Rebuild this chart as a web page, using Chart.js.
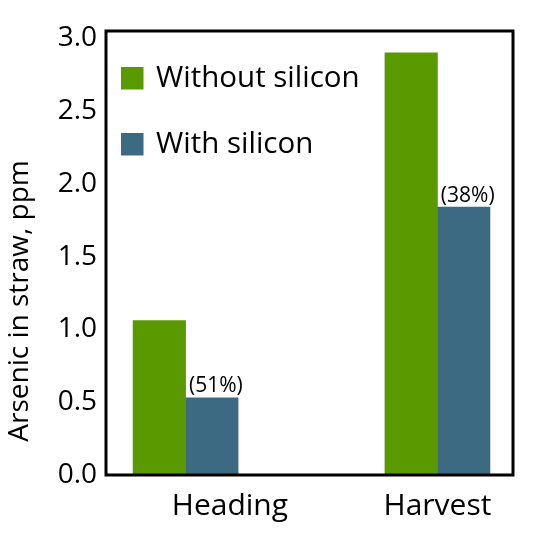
<!DOCTYPE html>
<html>
<head>
<meta charset="utf-8">
<script src="https://cdn.jsdelivr.net/npm/chart.js@4/dist/chart.umd.min.js"></script>
<style>
  html, body { margin: 0; padding: 0; background: #fff; }
  canvas { display: block; }
</style>
</head>
<body>
<canvas id="chart" width="544" height="546"></canvas>
<script>
const categories = ["Heading", "Harvest"];
const seriesNames = ["Without silicon", "With silicon"];
const withoutSilicon = [1.06, 2.90];
const withSilicon = [0.53, 1.84];
const reductionNotes = ["(51%)", "(38%)"];
const yTicks = [0, 0.5, 1, 1.5, 2, 2.5, 3];

const GREEN = "#5b9900";
const BLUE = "#3d6a83";
const FONT = "'Open Sans', 'Noto Sans', sans-serif";
// the Heading label sits to the right of its bar pair in the original
const labelNudge = [0.176, 0];

const toPoints = (values) => values.map((v, i) => ({ x: i, y: v }));

// black box round the plot, legend inside it, percent notes, y title
const decorations = {
  id: "decorations",
  afterDatasetsDraw(chart) {
    const { ctx, chartArea } = chart;
    ctx.save();

    // percent notes above the "with silicon" bars
    ctx.fillStyle = "#000";
    ctx.font = "21px " + FONT;
    ctx.textAlign = "center";
    ctx.textBaseline = "bottom";
    chart.getDatasetMeta(1).data.forEach((bar, i) => {
      ctx.fillText(reductionNotes[i], bar.x + 4, bar.y - 1);
    });

    // legend
    ctx.font = "29.5px " + FONT;
    ctx.textAlign = "left";
    ctx.textBaseline = "middle";
    chart.data.datasets.forEach((ds, i) => {
      const cy = chartArea.top + 47 + i * 66;
      ctx.fillStyle = ds.backgroundColor;
      ctx.fillRect(chartArea.left + 15, cy - 11, 22.5, 22.5);
      ctx.fillStyle = "#000";
      ctx.fillText(ds.label, chartArea.left + 50, cy + 1);
    });

    // frame
    ctx.strokeStyle = "#000";
    ctx.lineWidth = 3;
    ctx.strokeRect(chartArea.left, chartArea.top,
      chartArea.right - chartArea.left, chartArea.bottom - chartArea.top);

    // y axis title
    ctx.translate(20, 301);
    ctx.rotate(-Math.PI / 2);
    ctx.textAlign = "center";
    ctx.font = "28px " + FONT;
    ctx.fillText("Arsenic in straw, ppm", 0, 0);
    ctx.restore();
  }
};

new Chart(document.getElementById("chart"), {
  type: "bar",
  data: {
    datasets: [
      {
        label: seriesNames[0],
        data: toPoints(withoutSilicon),
        backgroundColor: GREEN,
        barThickness: 52.5,
      },
      {
        label: seriesNames[1],
        data: toPoints(withSilicon),
        backgroundColor: BLUE,
        barThickness: 52.5,
      },
    ],
  },
  options: {
    responsive: false,
    animation: false,
    layout: { padding: { top: 31, right: 31, left: 0, bottom: 0 } },
    plugins: {
      legend: { display: false },
      tooltip: { enabled: false },
    },
    scales: {
      x: {
        type: "linear",
        offset: false,
        min: -0.316,
        max: 1.3,
        grid: { display: false, drawTicks: false },
        border: { display: false },
        afterBuildTicks: (scale) => {
          scale.ticks = categories.map((c, i) => ({ value: i + labelNudge[i] }));
        },
        afterFit: (scale) => {
          scale.height = 71;
        },
        ticks: {
          color: "#000",
          padding: 13,
          maxRotation: 0,
          autoSkip: false,
          font: { family: FONT, size: 30 },
          callback: (value, index) => categories[index],
        },
      },
      y: {
        min: 0,
        max: 3.05,
        grid: { display: false, drawTicks: false },
        border: { display: false },
        afterBuildTicks: (scale) => {
          scale.ticks = yTicks.map((v) => ({ value: v }));
        },
        afterFit: (scale) => {
          scale.width = 106;
        },
        ticks: {
          color: "#000",
          padding: 9,
          font: { family: FONT, size: 28 },
          callback: (value) => value.toFixed(1),
        },
      },
    },
  },
  plugins: [decorations],
});
</script>
</body>
</html>
